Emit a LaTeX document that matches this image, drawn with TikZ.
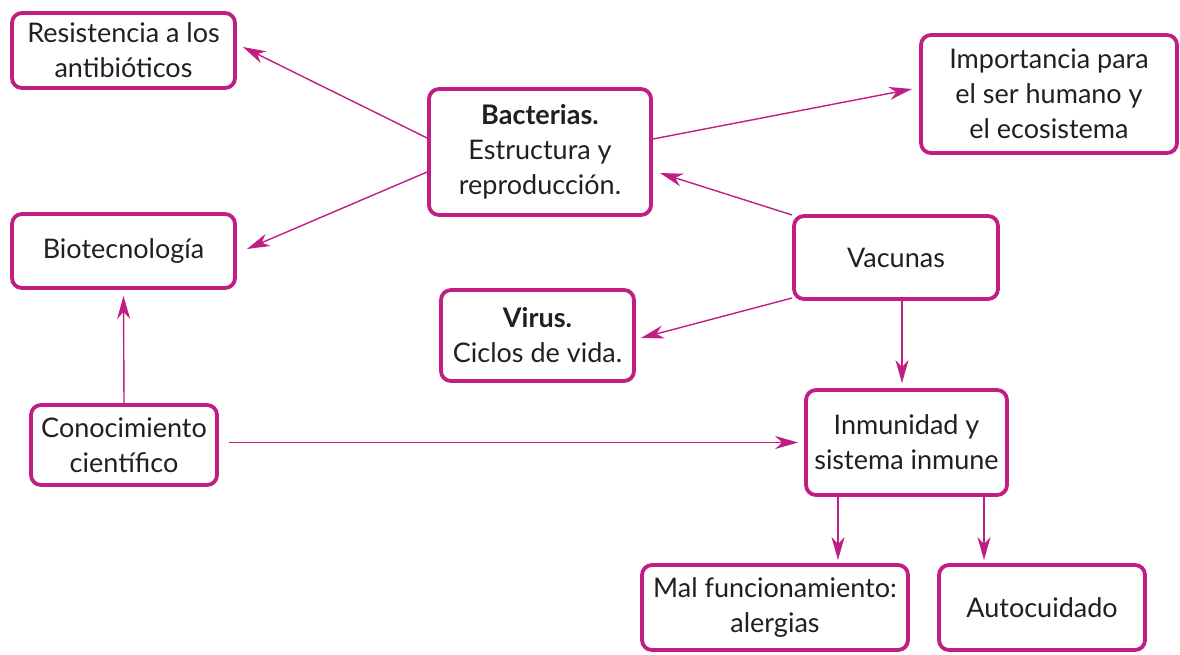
\documentclass[tikz,border=0pt]{standalone}
\usepackage{fontspec}
\setmainfont{Lato}
\usetikzlibrary{arrows.meta,calc}
\definecolor{mag}{RGB}{192,30,130}
\definecolor{ink}{RGB}{35,31,32}
\tikzset{
  box/.style={draw=mag, line width=3.8pt, rounded corners=10pt, fill=white,
    align=center, inner sep=0pt, text=ink,
    font=\fontsize{27}{35}\selectfont},
  conn/.style={draw=mag, line width=1.4pt,
    -{Stealth[length=23pt,width=13pt,inset=7pt]}},
}
\begin{document}
\begin{tikzpicture}[x=1pt,y=-1pt]
\useasboundingbox (0,0) rectangle (1180,654);
\node[box, minimum width=223pt, minimum height=75pt] (res) at (123.5,50.5) {Resistencia a los\\antibióticos};
\node[box, minimum width=222pt, minimum height=126pt] (bac) at (540,152) {\textbf{Bacterias.}\\Estructura y\\reproducción.};
\node[box, minimum width=256pt, minimum height=118pt] (imp) at (1049,94) {Importancia para\\el ser humano y\\el ecosistema};
\node[box, minimum width=223pt, minimum height=74pt] (bio) at (123.5,251) {Biotecnología};
\node[box, minimum width=204pt, minimum height=83pt] (vac) at (896,257.5) {Vacunas};
\node[box, minimum width=193pt, minimum height=91pt] (vir) at (537.5,335.5) {\textbf{Virus.}\\Ciclos de vida.};
\node[box, minimum width=186pt, minimum height=80pt] (con) at (124,445) {Conocimiento\\científico};
\node[box, minimum width=201pt, minimum height=105pt] (inm) at (906.5,442.5) {Inmunidad y\\sistema inmune};
\node[box, minimum width=266pt, minimum height=85pt] (mal) at (775,607.5) {Mal funcionamiento:\\alergias};
\node[box, minimum width=206pt, minimum height=85pt] (aut) at (1042,607.5) {Autocuidado};

\coordinate (h1) at ($(res.east)+(6,-3.5)$);
\coordinate (h2) at ($(bio.east)+(10,-2)$);
\coordinate (h3) at ($(imp.west)+(-7,-5)$);
\coordinate (h4) at ($(bac.east)+(7,21)$);
\coordinate (h5) at ($(vir.east)+(5,2.5)$);
\coordinate (h6) at ($(inm.north)+(-4.5,-5)$);
\coordinate (h7) at ($(bio.south)+(0,6)$);
\coordinate (h8) at ($(inm.west)+(-6,0)$);
\coordinate (h9) at ($(mal.north)+(63,-3)$);
\coordinate (h10) at ($(aut.north)+(-58,-3)$);

\draw[conn] ([yshift=14pt]bac.west) -- (h1);
\draw[conn] ([yshift=-20pt]bac.west) -- (h2);
\draw[conn] ([yshift=13pt]bac.east) -- (h3);
\draw[conn] ([yshift=42.5pt]vac.west) -- (h4);
\draw[conn] ([yshift=-40.5pt]vac.west) -- (h5);
\draw[conn] ([xshift=6pt]vac.south) -- (h6);
\draw[conn] (con.north) -- (h7);
\draw[conn] ([xshift=10pt,yshift=2.5pt]con.east) -- (h8);
\draw[conn] ([xshift=-68.5pt]inm.south) -- (h9);
\draw[conn] ([xshift=77.5pt]inm.south) -- (h10);
\end{tikzpicture}
\end{document}
